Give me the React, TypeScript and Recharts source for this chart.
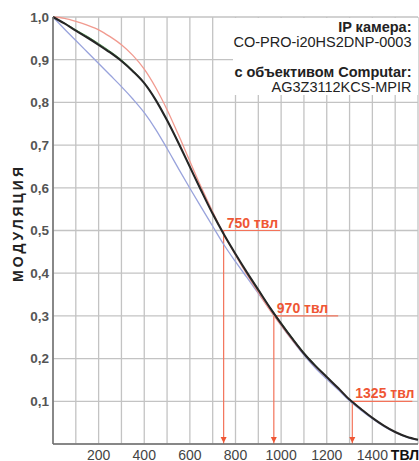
import { LineChart, Line, XAxis, YAxis, CartesianGrid, ReferenceLine, ReferenceDot } from "recharts";

const FONT = "'Liberation Sans', Arial, sans-serif";

const COLORS = {
  black: "#262626",
  green: "#5aa55a",
  red: "#f19a8f",
  blue: "#99a3dc",
  grid: "#c3c3c3",
  axis: "#6e6e6e",
  tick: "#444",
  mark: "#ef5634",
  markLine: "#f3735a",
};

// resolution, TV lines
const tvl = [0, 50, 100, 150, 200, 250, 300, 350, 400, 450, 500, 550, 600, 650, 700, 750, 800, 850, 900, 950, 1000, 1050, 1100, 1150, 1200, 1250, 1300, 1350, 1400, 1450, 1500, 1550, 1600];

const blackCurve = [1.0, 0.985, 0.968, 0.952, 0.935, 0.917, 0.897, 0.873, 0.845, 0.806, 0.758, 0.705, 0.649, 0.593, 0.539, 0.49, 0.445, 0.402, 0.361, 0.32, 0.282, 0.246, 0.212, 0.183, 0.157, 0.131, 0.104, 0.082, 0.061, 0.043, 0.028, 0.017, 0.01];
const greenCurve = [1.0, 0.986, 0.97, 0.955, 0.938, 0.92, 0.9, 0.875, 0.846, 0.806, 0.758, 0.705, 0.649, 0.593, 0.539, 0.49, 0.445, 0.402, 0.362, 0.321, 0.284, 0.248, 0.214, 0.185, 0.158, 0.131, 0.104, 0.082, 0.061, 0.043, 0.028, 0.017, 0.01];
const redCurve = [1.0, 0.997, 0.99, 0.981, 0.97, 0.954, 0.935, 0.91, 0.878, 0.835, 0.783, 0.724, 0.662, 0.601, 0.544, 0.49, 0.442, 0.397, 0.355, 0.314, 0.278, 0.243, 0.211, 0.182, 0.156, 0.13, 0.104, 0.082, 0.061, 0.043, 0.028, 0.017, 0.01];
const blueCurve = [1.0, 0.972, 0.945, 0.918, 0.891, 0.864, 0.837, 0.808, 0.776, 0.737, 0.692, 0.645, 0.599, 0.554, 0.51, 0.466, 0.427, 0.39, 0.353, 0.316, 0.278, 0.242, 0.208, 0.178, 0.152, 0.127, 0.101, 0.079, 0.059, 0.041, 0.027, 0.016, 0.009];

const xGridTicks = [0, 100, 200, 300, 400, 500, 600, 700, 800, 900, 1000, 1100, 1200, 1300, 1400, 1500, 1600];
const xLabelTicks = [200, 400, 600, 800, 1000, 1200, 1400];
const yTicks = [0.1, 0.2, 0.3, 0.4, 0.5, 0.6, 0.7, 0.8, 0.9, 1.0];

const markers = [
  { text: "750 твл", at: 748, level: 0.5, end: 996 },
  { text: "970 твл", at: 968, level: 0.3, end: 1250 },
  { text: "1325 твл", at: 1312, level: 0.1, end: 1575 },
];

const infoLines = [
  { text: "IP камера:", bold: true },
  { text: "CO-PRO-i20HS2DNP-0003", bold: false },
  { text: "с объективом Computar:", bold: true },
  { text: "AG3Z3112KCS-MPIR", bold: false },
];
const infoBaselines = [31.7, 46.7, 76.7, 91.5];

const data = tvl.map((v, i) => ({
  tvl: v,
  black: blackCurve[i],
  green: greenCurve[i],
  red: redCurve[i],
  blue: blueCurve[i],
}));

function XTick({ x, y, payload }: any) {
  if (!xLabelTicks.includes(payload.value)) return <g />;
  return (
    <text x={x} y={y + 15.5} textAnchor="middle" fontFamily={FONT} fontSize={14} fill={COLORS.tick}>
      {payload.value}
    </text>
  );
}

function YTick({ x, y, payload }: any) {
  return (
    <text x={x} y={y + 4.8} textAnchor="end" fontFamily={FONT} fontSize={13.5} fontWeight="bold" fill="#555">
      {payload.value.toFixed(1).replace(".", ",")}
    </text>
  );
}

function Arrowhead({ cx, cy }: any) {
  return <polygon points={`${cx - 3},${cy - 7} ${cx + 3},${cy - 7} ${cx},${cy - 1}`} fill={COLORS.mark} />;
}

function markLabel(text: string) {
  return ({ cx, cy }: any) => (
    <text x={cx + 3} y={cy - 3} fontFamily={FONT} fontSize={14} fontWeight="bold" fill={COLORS.mark}>
      {text}
    </text>
  );
}

export default function App() {
  return (
    <div style={{ position: "absolute", left: 0, top: 0, width: 419, height: 461, background: "#fff" }}>
      <LineChart width={419} height={461} data={data} margin={{ top: 17, right: 1, left: 0, bottom: 0 }}>
        <CartesianGrid stroke={COLORS.grid} strokeWidth={1.3} />
        <XAxis
          dataKey="tvl"
          type="number"
          domain={[0, 1600]}
          ticks={xGridTicks}
          interval={0}
          height={17}
          tickSize={0}
          tickMargin={0}
          tickLine={false}
          axisLine={{ stroke: COLORS.axis, strokeWidth: 1.5 }}
          tick={<XTick />}
        />
        <YAxis
          type="number"
          domain={[0, 1]}
          ticks={yTicks}
          interval={0}
          width={53}
          tickSize={2}
          tickMargin={2}
          tickLine={false}
          axisLine={{ stroke: COLORS.axis, strokeWidth: 1.5 }}
          tick={<YTick />}
        />
        {markers.map((m) => (
          <ReferenceLine
            key={m.text + "v"}
            segment={[{ x: m.at, y: m.level }, { x: m.at, y: 0 }]}
            stroke={COLORS.markLine}
            strokeWidth={1.2}
            ifOverflow="visible"
          />
        ))}
        {markers.map((m) => (
          <ReferenceLine
            key={m.text + "h"}
            segment={[{ x: m.at, y: m.level }, { x: m.end, y: m.level }]}
            stroke={COLORS.markLine}
            strokeWidth={1.2}
            ifOverflow="visible"
          />
        ))}
        <Line dataKey="blue" type="monotone" stroke={COLORS.blue} strokeWidth={1.3} dot={false} isAnimationActive={false} />
        <Line dataKey="red" type="monotone" stroke={COLORS.red} strokeWidth={1.3} dot={false} isAnimationActive={false} />
        <Line dataKey="green" type="monotone" stroke={COLORS.green} strokeWidth={1} dot={false} isAnimationActive={false} />
        <Line dataKey="black" type="monotone" stroke={COLORS.black} strokeWidth={2.1} dot={false} isAnimationActive={false} />
        {markers.map((m) => (
          <ReferenceDot key={m.text + "a"} x={m.at} y={0} r={0} ifOverflow="visible" shape={Arrowhead} />
        ))}
        {markers.map((m) => (
          <ReferenceDot key={m.text + "t"} x={m.at} y={m.level} r={0} ifOverflow="visible" shape={markLabel(m.text)} />
        ))}
      </LineChart>
      <svg width={419} height={461} style={{ position: "absolute", left: 0, top: 0, pointerEvents: "none" }}>
        <rect x={233} y={18} width={185} height={77} fill="#fff" />
        {infoLines.map((l, i) => (
          <text
            key={l.text}
            x={411.5}
            y={infoBaselines[i]}
            textAnchor="end"
            fontFamily={FONT}
            fontSize={14.5}
            fontWeight={l.bold ? "bold" : "normal"}
            fill="#222"
          >
            {l.text}
          </text>
        ))}
        <text
          transform="translate(22.5, 223) rotate(-90)"
          textAnchor="middle"
          fontFamily={FONT}
          fontSize={14}
          fontWeight="bold"
          letterSpacing={3}
          fill="#222"
        >
          МОДУЛЯЦИЯ
        </text>
        <text x={419} y={459.5} textAnchor="end" fontFamily={FONT} fontSize={14} fontWeight="bold" fill="#111">
          ТВЛ
        </text>
      </svg>
    </div>
  );
}
